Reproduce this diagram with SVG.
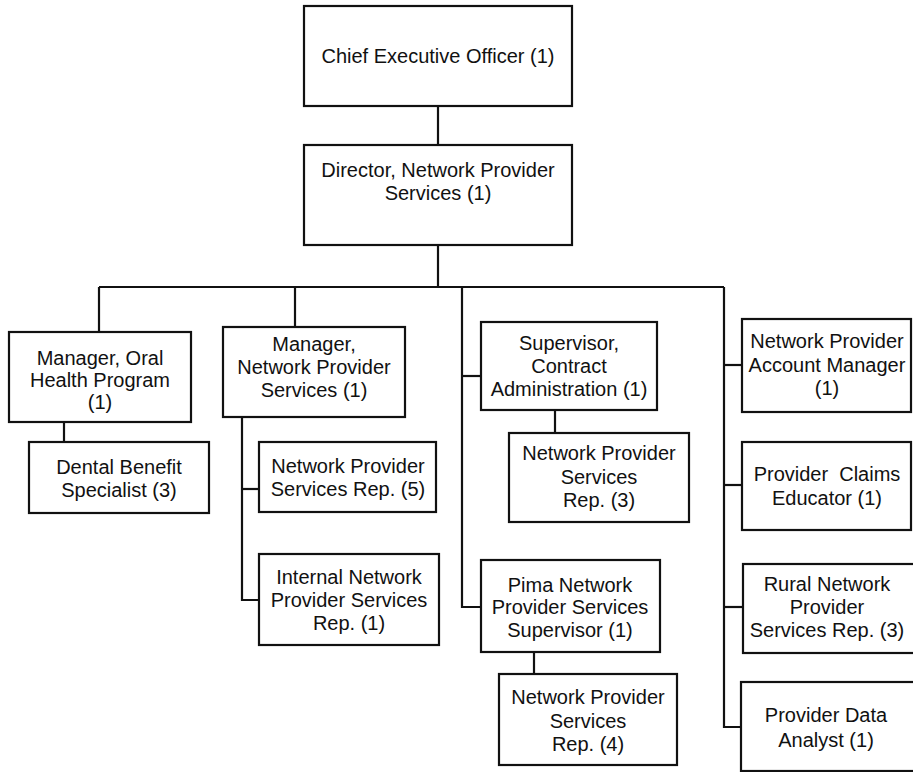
<svg xmlns="http://www.w3.org/2000/svg" width="913" height="772" viewBox="0 0 913 772">
  <style>
    .box { fill: #ffffff; stroke: #111111; stroke-width: 2.2; }
    .lbl { font-family: "Liberation Sans", Arial, sans-serif; font-size: 20px; fill: #111111; text-anchor: middle; dominant-baseline: central; }
    .link { fill: none; stroke: #111111; stroke-width: 2.2; }
  </style>
  <rect width="913" height="772" fill="#ffffff"/>

  <!-- reporting lines -->
  <g id="connectors">
    <path class="link" d="M438 106 V145"/>
    <path class="link" d="M438 245 V287"/>
    <path class="link" d="M99 287 H724"/>
    <path class="link" d="M99 287 V332"/>
    <path class="link" d="M295 287 V327"/>
    <path class="link" d="M64 422 V442"/>
    <path class="link" d="M242 417 V600 H259"/>
    <path class="link" d="M242 489 H259"/>
    <path class="link" d="M462 287 V607 H481"/>
    <path class="link" d="M462 376 H481"/>
    <path class="link" d="M555 410 V433"/>
    <path class="link" d="M534 652 V674"/>
    <path class="link" d="M724 287 V727 H741"/>
    <path class="link" d="M724 365 H742"/>
    <path class="link" d="M724 485 H742"/>
    <path class="link" d="M724 607 H743"/>
  </g>

  <g id="ceo">
    <rect class="box" x="304" y="6" width="268" height="100"/>
    <text class="lbl" x="438" y="56">Chief Executive Officer (1)</text>
  </g>

  <g id="director">
    <rect class="box" x="304" y="145" width="268" height="100"/>
    <text class="lbl" x="438" y="170">Director, Network Provider</text>
    <text class="lbl" x="438" y="193">Services (1)</text>
  </g>

  <g id="mgr-oral-health">
    <rect class="box" x="9" y="332" width="182" height="90"/>
    <text class="lbl" x="100" y="358">Manager, Oral</text>
    <text class="lbl" x="100" y="380">Health Program</text>
    <text class="lbl" x="100" y="402">(1)</text>
  </g>

  <g id="dental-benefit">
    <rect class="box" x="29" y="442" width="180" height="71"/>
    <text class="lbl" x="119" y="467">Dental Benefit</text>
    <text class="lbl" x="119" y="490">Specialist (3)</text>
  </g>

  <g id="mgr-nps">
    <rect class="box" x="223" y="327" width="182" height="90"/>
    <text class="lbl" x="314" y="344">Manager,</text>
    <text class="lbl" x="314" y="367">Network Provider</text>
    <text class="lbl" x="314" y="390">Services (1)</text>
  </g>

  <g id="nps-rep-5">
    <rect class="box" x="259" y="442" width="177" height="70"/>
    <text class="lbl" x="348" y="466">Network Provider</text>
    <text class="lbl" x="348" y="489">Services Rep. (5)</text>
  </g>

  <g id="internal-nps-rep">
    <rect class="box" x="259" y="554" width="180" height="91"/>
    <text class="lbl" x="349" y="577">Internal Network</text>
    <text class="lbl" x="349" y="600">Provider Services</text>
    <text class="lbl" x="349" y="623">Rep. (1)</text>
  </g>

  <g id="sup-contract">
    <rect class="box" x="481" y="322" width="176" height="88"/>
    <text class="lbl" x="569" y="343">Supervisor,</text>
    <text class="lbl" x="569" y="366">Contract</text>
    <text class="lbl" x="569" y="389">Administration (1)</text>
  </g>

  <g id="nps-rep-3">
    <rect class="box" x="509" y="433" width="180" height="89"/>
    <text class="lbl" x="599" y="453">Network Provider</text>
    <text class="lbl" x="599" y="477">Services</text>
    <text class="lbl" x="599" y="500">Rep. (3)</text>
  </g>

  <g id="pima-sup">
    <rect class="box" x="481" y="560" width="179" height="92"/>
    <text class="lbl" x="570" y="585">Pima Network</text>
    <text class="lbl" x="570" y="607">Provider Services</text>
    <text class="lbl" x="570" y="630">Supervisor (1)</text>
  </g>

  <g id="nps-rep-4">
    <rect class="box" x="499" y="674" width="178" height="91"/>
    <text class="lbl" x="588" y="697">Network Provider</text>
    <text class="lbl" x="588" y="721">Services</text>
    <text class="lbl" x="588" y="744">Rep. (4)</text>
  </g>

  <g id="account-mgr">
    <rect class="box" x="742" y="319" width="169" height="93"/>
    <text class="lbl" x="827" y="341">Network Provider</text>
    <text class="lbl" x="827" y="365">Account Manager</text>
    <text class="lbl" x="827" y="388">(1)</text>
  </g>

  <g id="claims-educator">
    <rect class="box" x="742" y="442" width="169" height="88"/>
    <text class="lbl" x="827" y="474" xml:space="preserve">Provider  Claims</text>
    <text class="lbl" x="827" y="498">Educator (1)</text>
  </g>

  <g id="rural-nps-rep">
    <rect class="box" x="743" y="564" width="180" height="89"/>
    <text class="lbl" x="827" y="584">Rural Network</text>
    <text class="lbl" x="827" y="607">Provider</text>
    <text class="lbl" x="827" y="630">Services Rep. (3)</text>
  </g>

  <g id="data-analyst">
    <rect class="box" x="741" y="682" width="180" height="89"/>
    <text class="lbl" x="826" y="715">Provider Data</text>
    <text class="lbl" x="826" y="740">Analyst (1)</text>
  </g>
</svg>
